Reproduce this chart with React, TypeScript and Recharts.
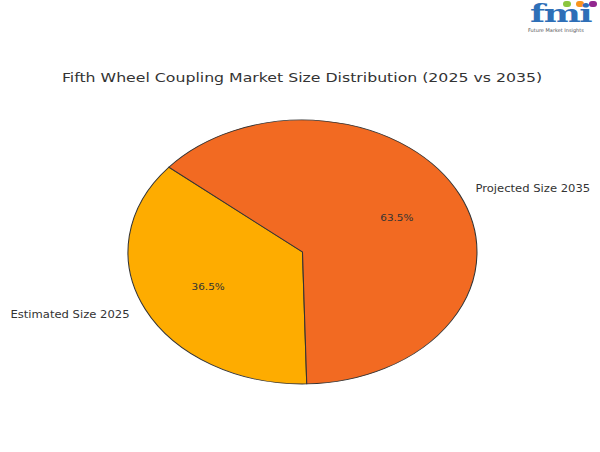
import React from 'react';
import { PieChart, Pie, Cell } from 'recharts';

const segments = ['Estimated Size 2025', 'Projected Size 2035'];
const shares = [36.5, 63.5];
const COLORS = ['#FEAC00', '#F26A22'];

const data = segments.map((name, i) => ({ name, value: shares[i] }));

// the reference pie is an ellipse: draw a circle and stretch it horizontally
const SX = 1.322;
const CX = 302.5 / SX;
const CY = 252;
const R = 132;
// text in the reference is stretched a little as well
const TX = 1.16;
const FONT = '"DejaVu Sans", sans-serif';
const RAD = Math.PI / 180;

const renderLabel = (props: any) => {
  const { cx, cy, midAngle, outerRadius, percent, name } = props;
  const c = Math.cos(-midAngle * RAD);
  const s = Math.sin(-midAngle * RAD);
  const lx = cx + outerRadius * 1.1 * c;
  const ly = cy + outerRadius * 1.1 * s;
  const px = cx + outerRadius * 0.6 * c;
  const py = cy + outerRadius * 0.6 * s;
  return (
    <g>
      <text
        transform={`translate(${lx} ${ly}) scale(${TX / SX} 1)`}
        textAnchor={c >= 0 ? 'start' : 'end'}
        dominantBaseline="central"
        fontSize={10}
        fontFamily={FONT}
        fill="#333"
      >
        {name}
      </text>
      <text
        transform={`translate(${px} ${py}) scale(${TX / SX} 1)`}
        textAnchor="middle"
        dominantBaseline="central"
        fontSize={9}
        fontFamily={FONT}
        fill="#333"
      >
        {`${(percent * 100).toFixed(1)}%`}
      </text>
    </g>
  );
};

const Logo = () => (
  <div style={{ position: 'absolute', left: 526, top: 0, width: 74, height: 34 }}>
    <div style={{ position: 'absolute', left: 37, top: 1, width: 8, height: 6, borderRadius: 4, background: '#8cc63f' }} />
    <div style={{ position: 'absolute', left: 50, top: 1, width: 8, height: 6, borderRadius: 4, background: '#f7941d' }} />
    <div style={{ position: 'absolute', left: 63, top: 1, width: 8, height: 6, borderRadius: 4, background: '#92278f' }} />
    <div
      style={{
        position: 'absolute',
        left: 4,
        top: 4,
        height: 20,
        lineHeight: '20px',
        fontFamily: '"DejaVu Serif", serif',
        fontWeight: 'bold',
        fontSize: 25,
        color: '#2e6fb7',
        letterSpacing: -1,
        transform: 'scale(1.4, 1)',
        transformOrigin: '0 0',
      }}
    >
      fmi
    </div>
    <div
      style={{
        position: 'absolute',
        left: 2,
        top: 27,
        lineHeight: '6px',
        fontFamily: FONT,
        fontSize: 5,
        color: '#555',
        whiteSpace: 'nowrap',
      }}
    >
      Future Market Insights
    </div>
  </div>
);

export default function App() {
  return (
    <div
      style={{
        position: 'absolute',
        left: 0,
        top: 0,
        width: 600,
        height: 452,
        background: '#fff',
        overflow: 'hidden',
      }}
    >
      <Logo />
      <div
        style={{
          position: 'absolute',
          left: 302,
          top: 70,
          whiteSpace: 'nowrap',
          fontFamily: FONT,
          fontSize: 13,
          lineHeight: '16px',
          color: '#333',
          transform: 'translateX(-50%) scale(1.21, 1)',
        }}
      >
        Fifth Wheel Coupling Market Size Distribution (2025 vs 2035)
      </div>
      <div
        style={{
          position: 'absolute',
          left: 0,
          top: 0,
          transform: `scale(${SX}, 1)`,
          transformOrigin: '0 0',
        }}
      >
        <PieChart width={600 / SX} height={452} margin={{ top: 0, right: 0, bottom: 0, left: 0 }}>
          <Pie
            data={data}
            dataKey="value"
            nameKey="name"
            cx={CX}
            cy={CY}
            outerRadius={R}
            startAngle={140}
            endAngle={500}
            stroke="#333"
            strokeWidth={0.8}
            label={renderLabel}
            labelLine={false}
            isAnimationActive={false}
          >
            {data.map((_, i) => (
              <Cell key={i} fill={COLORS[i]} />
            ))}
          </Pie>
        </PieChart>
      </div>
    </div>
  );
}
